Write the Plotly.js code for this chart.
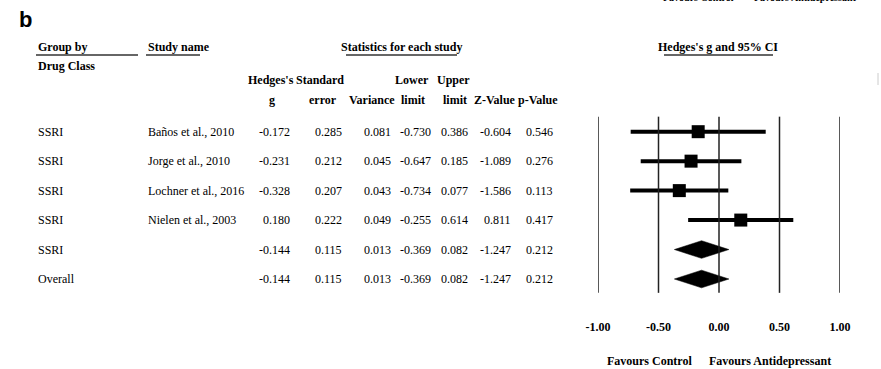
<!DOCTYPE html>
<html>
<head>
<meta charset="utf-8">
<script src="https://cdn.plot.ly/plotly-3.0.1.min.js"></script>
<style>html,body{margin:0;padding:0;background:#fff;}</style>
</head>
<body>
<div id="chart" style="width:881px;height:369px;"></div>
<script>
// ---- data ----
var groups   = ["SSRI", "SSRI", "SSRI", "SSRI", "SSRI", "Overall"];
var studies  = ["Baños et al., 2010", "Jorge et al., 2010", "Lochner et al., 2016", "Nielen et al., 2003", "", ""];
var hedgesG  = [-0.172, -0.231, -0.328, 0.180, -0.144, -0.144];
var stdErr   = [0.285, 0.212, 0.207, 0.222, 0.115, 0.115];
var variance = [0.081, 0.045, 0.043, 0.049, 0.013, 0.013];
var lowerLim = [-0.730, -0.647, -0.734, -0.255, -0.369, -0.369];
var upperLim = [0.386, 0.185, 0.077, 0.614, 0.082, 0.082];
var zValue   = [-0.604, -1.089, -1.586, 0.811, -1.247, -1.247];
var pValue   = [0.546, 0.276, 0.113, 0.417, 0.212, 0.212];
var isSummary = [false, false, false, false, true, true];
var tickVals = [-1, -0.5, 0, 0.5, 1];
var tickText = ["-1.00", "-0.50", "0.00", "0.50", "1.00"];

// ---- layout helpers ----
var W = 881, H = 369;
function px(x){ return x / W; }
function py(y){ return 1 - y / H; }
var SERIF = "Liberation Serif, Times New Roman, serif";
var fReg = {family: SERIF, size: 12, color: "#000"};
var fBold = {family: SERIF, size: 12, color: "#000", weight: "bold"};

var rows = hedgesG.map(function(_, i){ return i; });
var studyIdx = rows.filter(function(i){ return !isSummary[i]; });
var sumIdx = rows.filter(function(i){ return isSummary[i]; });

var traces = [];
// study points with CIs
traces.push({
  type: "scatter", mode: "markers",
  x: studyIdx.map(function(i){ return hedgesG[i]; }),
  y: studyIdx,
  marker: {symbol: "square", size: 13, color: "#000"},
  error_x: {
    type: "data", symmetric: false,
    array: studyIdx.map(function(i){ return upperLim[i] - hedgesG[i]; }),
    arrayminus: studyIdx.map(function(i){ return hedgesG[i] - lowerLim[i]; }),
    thickness: 4, width: 0, color: "#000"
  },
  hoverinfo: "skip", showlegend: false
});
// summary diamonds
var dh = 0.3;
sumIdx.forEach(function(i){
  traces.push({
    type: "scatter", mode: "lines", fill: "toself",
    x: [lowerLim[i], hedgesG[i], upperLim[i], hedgesG[i], lowerLim[i]],
    y: [i, i - dh, i, i + dh, i],
    fillcolor: "#000", line: {color: "#000", width: 0.5},
    hoverinfo: "skip", showlegend: false
  });
});

var annotations = [];
function ann(text, x, y, font, xanchor, yref){
  annotations.push({text: text, x: x, y: y, xref: "paper", yref: yref || "paper",
    xanchor: xanchor || "center", yanchor: "middle", showarrow: false, font: font});
}
// panel label
ann("b", px(25), py(20), {family: "Liberation Sans, Arial, sans-serif", size: 22, color: "#000", weight: "bold"});
// cut-off top legend (cropped in the reference too)
ann("Favours Control", px(698), py(-2), {family: SERIF, size: 10, color: "#000", weight: "bold"});
ann("Favours Antidepressant", px(805), py(-2), {family: SERIF, size: 10, color: "#000", weight: "bold"});
// headers
ann("Group by", px(36), py(47), fBold, "left");
ann("Drug Class", px(36), py(66), fBold, "left");
ann("Study name", px(146), py(47), fBold, "left");
ann("Statistics for each study", px(401), py(47), fBold);
ann("Hedges's g and 95% CI", px(718), py(47), fBold);
ann("Hedges's", px(271), py(80), fBold);
ann("Standard", px(320), py(80), fBold);
ann("Lower", px(412), py(80), fBold);
ann("Upper", px(453), py(80), fBold);
ann("g", px(272), py(100), fBold);
ann("error", px(323), py(100), fBold);
ann("Variance", px(372), py(100), fBold);
ann("limit", px(413), py(100), fBold);
ann("limit", px(455), py(100), fBold);
ann("Z-Value", px(495), py(100), fBold);
ann("p-Value", px(538), py(100), fBold);
// footer
ann("Favours Control", px(649), py(361), fBold);
ann("Favours Antidepressant", px(770), py(361), fBold);

// table rows
var cols = [hedgesG, stdErr, variance, lowerLim, upperLim, zValue, pValue];
var colRight = [292, 344, 393, 433, 470, 513, 555];
rows.forEach(function(i){
  ann(groups[i], px(36), i, fReg, "left", "y");
  if (studies[i]) ann(studies[i], px(146), i, fReg, "left", "y");
  cols.forEach(function(c, k){
    ann(c[i].toFixed(3), px(colRight[k]), i, fReg, "right", "y");
  });
});

// shapes: vertical reference lines + header underlines
var shapes = tickVals.map(function(v){
  return {type: "line", xref: "x", yref: "y", x0: v, x1: v, y0: -0.51, y1: 5.47,
          line: {color: "#222", width: 1.5}};
});
function uline(x0, x1, y){
  shapes.push({type: "line", xref: "paper", yref: "paper", x0: px(x0), x1: px(x1), y0: py(y), y1: py(y),
               line: {color: "#333", width: 1.5}});
}
uline(36, 138, 55);
uline(146, 200, 55);
uline(346, 457, 55);
uline(664, 773, 55);
shapes.push({type: "line", xref: "paper", yref: "paper", x0: px(878), x1: px(878), y0: py(73), y1: py(85),
             line: {color: "#ccc", width: 1}});

var layout = {
  width: W, height: H,
  margin: {l: 0, r: 0, t: 0, b: 0},
  paper_bgcolor: "#fff", plot_bgcolor: "#fff",
  showlegend: false,
  xaxis: {
    domain: [598 / W, 840 / W], range: [-1, 1],
    anchor: "free", position: py(318),
    tickvals: tickVals, ticktext: tickText, ticks: "",
    showgrid: false, zeroline: false, showline: false,
    tickfont: fBold, fixedrange: true
  },
  yaxis: {
    domain: [0, 1], range: [8.055, -4.47],
    visible: false, showgrid: false, zeroline: false, fixedrange: true
  },
  annotations: annotations,
  shapes: shapes
};

Plotly.newPlot("chart", traces, layout, {displayModeBar: false, staticPlot: true});
</script>
</body>
</html>
